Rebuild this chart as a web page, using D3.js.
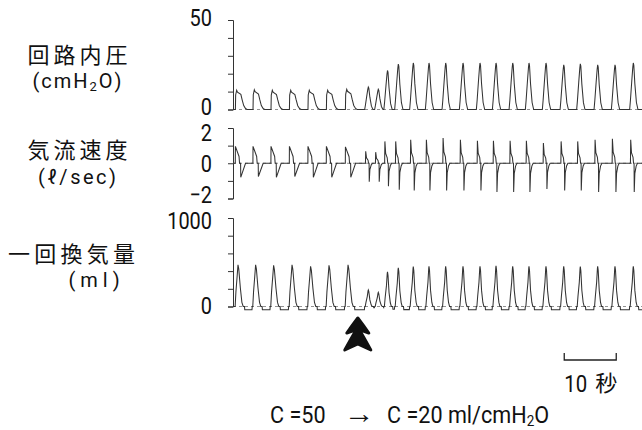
<!DOCTYPE html>
<html>
<head>
<meta charset="utf-8">
<script src="https://cdn.jsdelivr.net/npm/d3@7"></script>
<style>
  body { margin: 0; background: #fff; }
  svg { display: block; }
  .num { font-family: Roboto, "Liberation Sans", sans-serif; }
  .jp { font-family: "Noto Sans CJK JP", sans-serif; }
</style>
</head>
<body>
<div id="chart"></div>
<script>
const breathTimes = [0.71, 4.10, 7.56, 11.10, 14.67, 18.21, 21.87,
  26.02, 27.94, 29.71, 31.79, 34.67,
  37.69, 40.90, 44.23, 47.50, 50.58, 53.79, 56.92, 60.19, 63.60, 66.79, 70.13, 73.46, 76.98];
const breathPhase = ["C50", "C50", "C50", "C50", "C50", "C50", "C50",
  "C20", "C20", "C20", "C20", "C20",
  "C20", "C20", "C20", "C20", "C20", "C20", "C20", "C20", "C20", "C20", "C20", "C20", "C20"];

// peak airway pressure (cmH2O)
const pressurePeaks = [10.8, 11, 10.7, 10.7, 10.8, 10.8, 11.3,
  12.5, 11.3, 21.8, 25.4, 26,
  26, 26, 26, 26, 26, 26, 26, 26, 25, 25.5, 25, 25, 26];
// inspiratory / expiratory peak flow (l/sec)
const flowInsp = [0.96, 0.96, 0.96, 0.96, 0.96, 0.96, 0.93,
  0.68, 0.63, 1.24, 1.24, 1.33,
  1.33, 1.43, 1.33, 1.28, 1.28, 1.28, 1.28, 1.15, 1.24, 1.24, 1.33, 1.39, 1.33];
const flowExp = [-0.8, -0.75, -0.8, -0.75, -0.8, -0.8, -0.8,
  -1.05, -1.05, -1.3, -1.5, -1.55,
  -1.54, -1.54, -1.54, -1.54, -1.63, -1.63, -1.63, -1.46, -1.54, -1.54, -1.63, -1.63, -1.63];
// tidal volume (ml)
const volumePeaks = [470, 470, 465, 470, 455, 465, 470,
  186, 160, 393, 438, 450,
  455, 455, 455, 455, 460, 455, 455, 455, 455, 450, 455, 455, 455];

// waveform shape of one breath: [seconds from pressure peak, fraction of peak]
const shapes = {
  C50: {
    pressure: [[-0.25, 0], [-0.2, 0.75], [0, 1], [0.15, 0.9], [0.8, 0.78], [1.05, 0.5], [1.35, 0.2], [1.7, 0.05], [2.0, 0]],
    flow: [[-0.27, 0], [-0.25, 1], [0.45, 0.4], [0.55, 0], [0.75, 0], [0.78, -1], [1.7, 0]],
    volume: [[-0.3, 0], [-0.15, 0.35], [0.1, 0.75], [0.25, 1], [0.4, 0.9], [0.7, 0.45], [1.0, 0.1], [1.25, 0], [1.5, 0], [1.55, -0.08]]
  },
  C20: {
    pressure: [[-0.7, 0], [-0.55, 0.2], [-0.3, 0.6], [-0.1, 0.9], [0, 1], [0.1, 0.95], [0.3, 0.55], [0.6, 0.15], [0.9, 0]],
    flow: [[-0.55, 0], [-0.5, 1], [-0.35, 0.45], [-0.05, 0.25], [0.05, 0], [0.15, 0], [0.18, -1], [0.3, -0.35], [0.55, -0.1], [0.8, 0]],
    volume: [[-0.6, 0], [-0.45, 0.25], [-0.2, 0.6], [-0.05, 0.95], [0, 1], [0.1, 0.9], [0.3, 0.4], [0.55, 0.1], [0.75, 0], [1.0, 0], [1.05, -0.08]]
  }
};

const pressureTicks = [0, 10, 20, 30, 40, 50];
const flowTicks = [-2, -1, 0, 1, 2];
const volumeTicks = [0, 200, 400, 600, 800, 1000];

const W = 642, H = 430;
const x0 = 233;
const svg = d3.select("#chart").append("svg").attr("width", W).attr("height", H);

const x = d3.scaleLinear().domain([0, 80]).range([x0, x0 + 80 * 5.2]);
const yP = d3.scaleLinear().domain([0, 50]).range([109.5, 20]);
const yF = d3.scaleLinear().domain([-2, 2]).range([198.5, 128]);
const yV = d3.scaleLinear().domain([0, 1000]).range([306.5, 218]);

// squeeze text horizontally around its anchor (narrow gothic digits)
function condense(sel, k) {
  sel.each(function () {
    const ax = +this.getAttribute("x") || 0;
    d3.select(this).attr("transform", `translate(${ax},0) scale(${k},1) translate(${-ax},0)`);
  });
}

// build trace points from breath values and shape
function trace(kind, amp) {
  const pts = [[0, 0]];
  let last = 0;
  breathTimes.forEach((t, i) => {
    const sh = shapes[breathPhase[i]][kind];
    const start = t + sh[0][0];
    if (last !== 0) {
      pts.push([start - 0.15, last]);
      pts.push([start - 0.1, 0]);
    }
    sh.forEach(([dt, f]) => pts.push([t + dt, f * amp(i, f)]));
    last = pts[pts.length - 1][1];
  });
  pts.push([80, last]);
  return pts;
}

const pressurePts = trace("pressure", i => pressurePeaks[i]);
const flowPts = trace("flow", (i, f) => f >= 0 ? flowInsp[i] : Math.abs(flowExp[i]));
const volumePts = trace("volume", i => volumePeaks[i]);

// axes
function leftAxis(y, ticks, labeled, shift) {
  return g => {
    g.attr("transform", `translate(${x0},0)`)
      .call(d3.axisLeft(y).tickValues(ticks).tickSize(5).tickPadding(16)
        .tickFormat(d => labeled.includes(d) ? String(d).replace("-", "\u2212") : ""));
    g.select(".domain").attr("stroke", "#333").attr("stroke-width", 1);
    g.selectAll(".tick line").attr("stroke", "#333");
    g.selectAll(".tick text").attr("class", "num").attr("font-size", 24).attr("fill", "#111")
      .attr("dy", d => (shift[d] || 0) + 8)
      .call(condense, 0.83);
    g.attr("font-family", null);
  };
}
svg.append("g").call(leftAxis(yP, pressureTicks, [0, 50], { 50: -3, 0: -3 }));
svg.append("g").call(leftAxis(yF, flowTicks, [-2, 0, 2], { 2: 4, "-2": -4 }));
svg.append("g").call(leftAxis(yV, volumeTicks, [0, 1000], { 1000: 2, 0: -1 }));

// zero baselines
[yP, yF, yV].forEach(y => {
  svg.append("line")
    .attr("x1", x0).attr("x2", W)
    .attr("y1", y(0)).attr("y2", y(0))
    .attr("stroke", "#777").attr("stroke-width", 0.8).attr("stroke-dasharray", "3,3");
});

// traces
svg.append("clipPath").attr("id", "clip")
  .append("rect").attr("x", x0).attr("y", 0).attr("width", W - x0).attr("height", H);
[[pressurePts, yP], [flowPts, yF], [volumePts, yV]].forEach(([pts, y]) => {
  svg.append("path")
    .datum(pts)
    .attr("clip-path", "url(#clip)")
    .attr("fill", "none")
    .attr("stroke", "#333")
    .attr("stroke-width", 1.05)
    .attr("d", d3.line().x(d => x(d[0])).y(d => y(d[1])));
});

// left labels
const labels = svg.append("g").attr("fill", "#111");
function jp(txt, cx, cy, size, sp) {
  return labels.append("text").attr("class", "jp").attr("x", cx + sp / 2).attr("y", cy)
    .attr("text-anchor", "middle").attr("font-size", size).attr("letter-spacing", sp).text(txt);
}
function unit(cx, cy, sp) {
  return labels.append("text").attr("class", "num").attr("x", cx + sp / 2).attr("y", cy)
    .attr("text-anchor", "middle").attr("font-size", 20).attr("letter-spacing", sp);
}
jp("回路内圧", 77.5, 63, 22, 4);
const unitP = unit(77, 88, 2);
unitP.append("tspan").text("(cmH");
unitP.append("tspan").attr("font-size", 13).attr("dy", 3).text("2");
unitP.append("tspan").attr("dy", -3).text("O)");
jp("気流速度", 77.5, 158, 22, 4);
unit(77, 184, 2.5).text("(ℓ/sec)");
jp("一回換気量", 71.5, 262, 22, 4.2);
unit(94, 287, 5).text("(ml)");

// arrow marking the compliance change
const ax = x(24.0);
svg.append("path")
  .attr("d", `M${ax},318 Q${ax + 6},326 ${ax + 11},333 L${ax},329 L${ax - 11},333 Q${ax - 6},326 ${ax},318 Z ` +
    `M${ax},327 Q${ax + 7},339 ${ax + 13},350 L${ax},344 L${ax - 13},350 Q${ax - 7},339 ${ax},327 Z`)
  .attr("fill", "#111").attr("stroke", "#111").attr("stroke-width", 3).attr("stroke-linejoin", "round");

// 10 s scale bar
const sb = [63.7, 73.7];
svg.append("path")
  .attr("d", `M${x(sb[0])},353 V360 H${x(sb[1])} V353`)
  .attr("fill", "none").attr("stroke", "#222").attr("stroke-width", 1.3);
svg.append("text").attr("class", "num").attr("x", x(sb[0])).attr("y", 392)
  .attr("font-size", 24).attr("fill", "#111").text("10").call(condense, 0.85);
svg.append("text").attr("class", "jp").attr("x", x(sb[1]) + 1).attr("y", 391)
  .attr("text-anchor", "end").attr("font-size", 22).attr("fill", "#111").text("秒");

// bottom caption
const cap = svg.append("g").attr("fill", "#111").attr("font-size", 24);
cap.append("text").attr("class", "num").attr("x", 270).attr("y", 423).text("C =50").call(condense, 0.9);
cap.append("text").attr("class", "num").attr("x", 344).attr("y", 423).attr("font-size", 28).text("→").call(condense, 1.1);
const c2 = cap.append("text").attr("class", "num").attr("x", 387).attr("y", 423);
c2.append("tspan").text("C =20 ml/cmH");
c2.append("tspan").attr("font-size", 15).attr("dy", 3).text("2");
c2.append("tspan").attr("dy", -3).text("O");
c2.call(condense, 0.9);
</script>
</body>
</html>
